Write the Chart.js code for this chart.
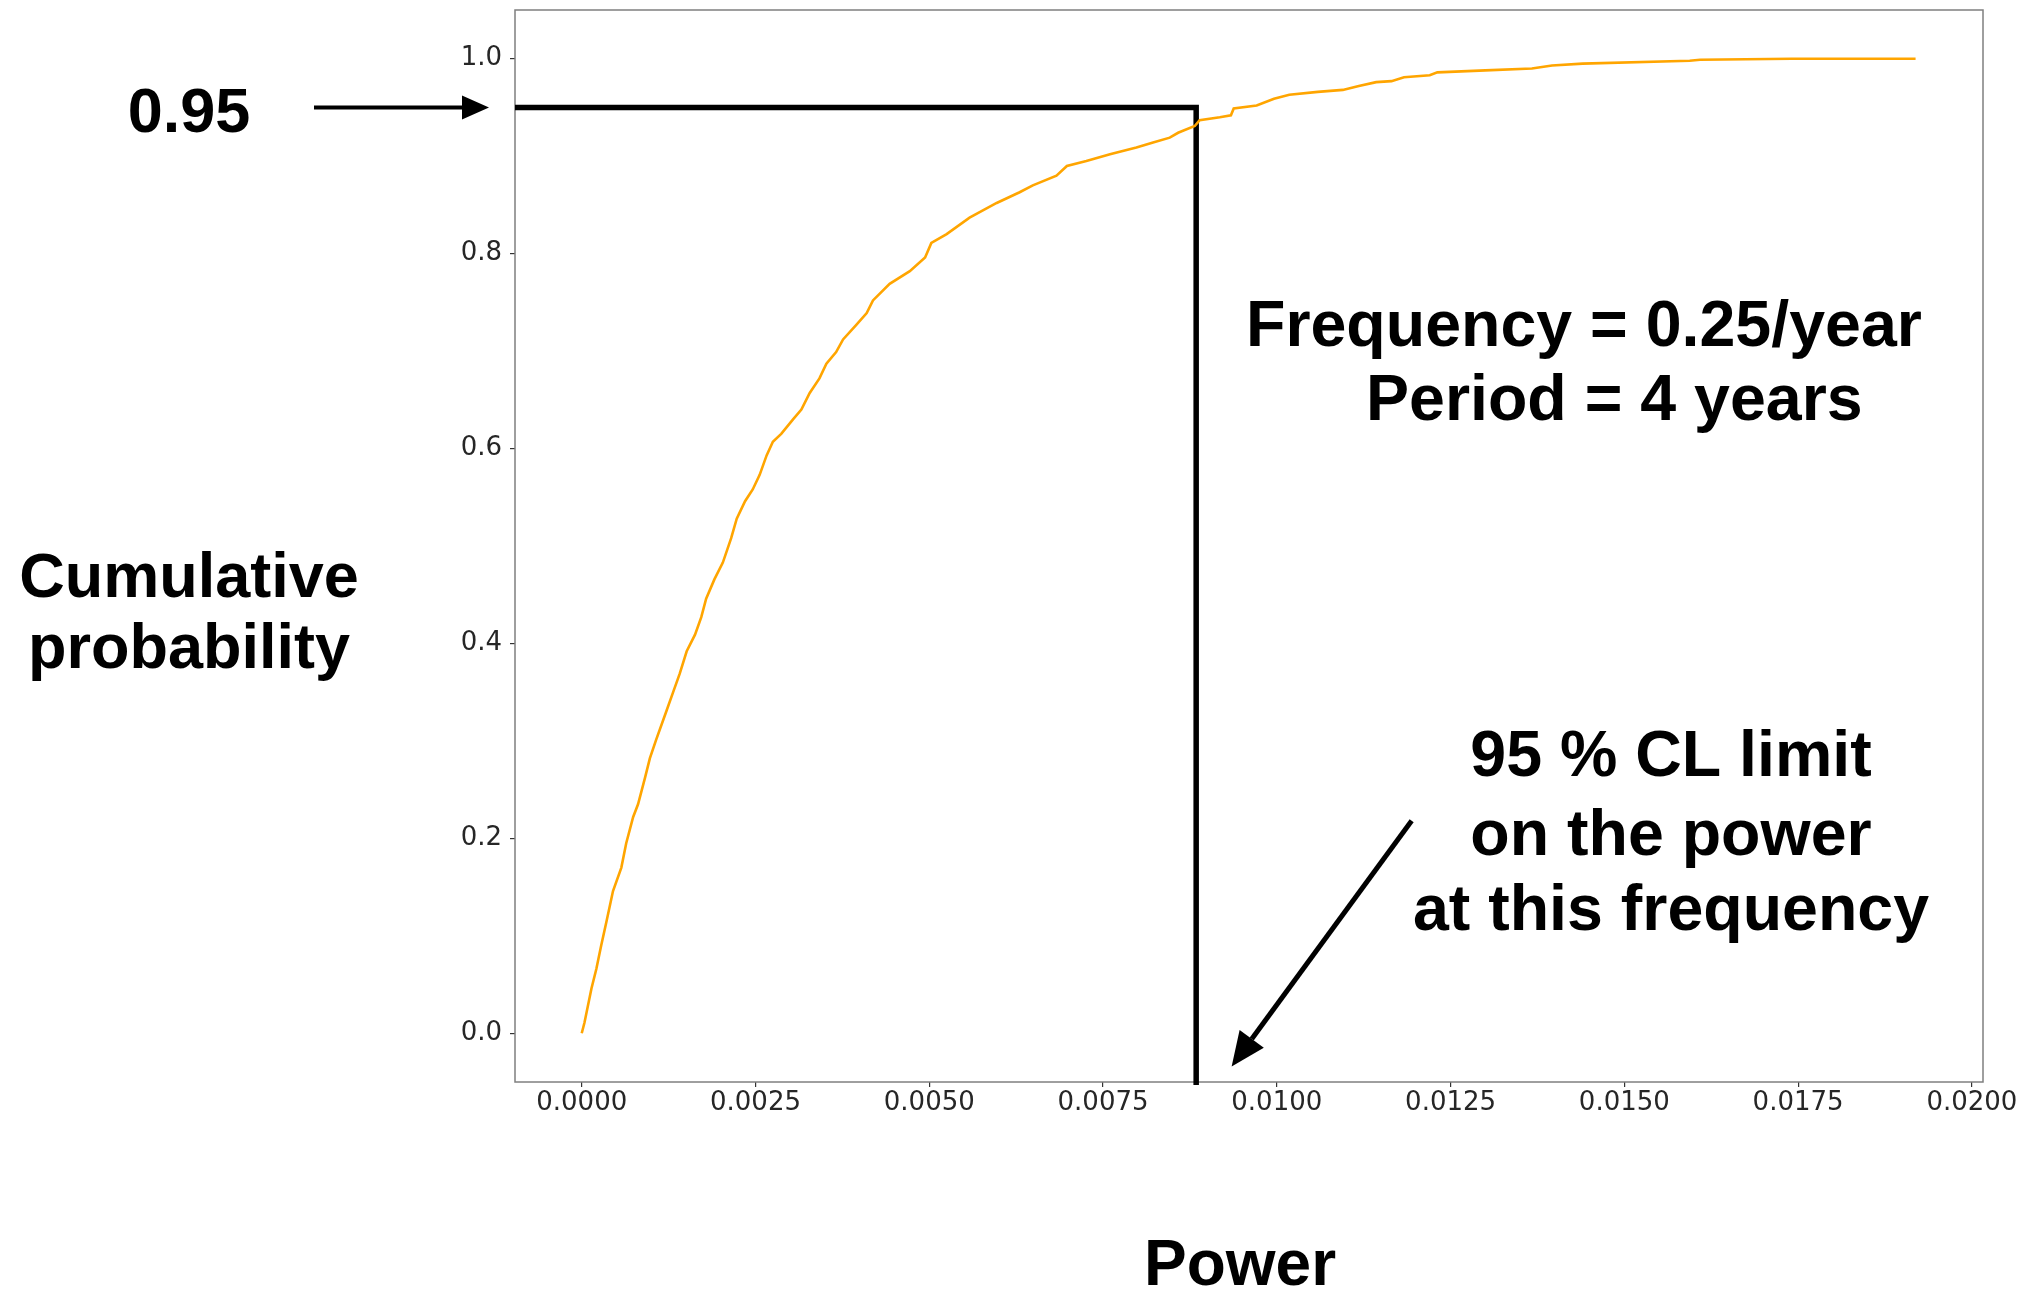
<!DOCTYPE html>
<html>
<head>
<meta charset="utf-8">
<title>Cumulative probability of power</title>
<script src="https://cdn.jsdelivr.net/npm/chart.js@4.4.1/dist/chart.umd.min.js"></script>
<style>
  html, body { margin: 0; padding: 0; background: #fff; }
  #wrap { width: 2025px; height: 1293px; position: relative; }
</style>
</head>
<body>
<div id="wrap"><canvas id="cdfChart"></canvas></div>
<script>
// empirical CDF of the power at f = 0.25/year
const power = [
  0, 0.00004, 0.00014, 0.00021, 0.00028, 0.00036, 0.00045, 0.00057, 0.00064, 0.00074,
  0.00081, 0.00091, 0.00098, 0.00107, 0.00122, 0.00131, 0.00141, 0.00151, 0.00163, 0.00172,
  0.00179, 0.00191, 0.00203, 0.00215, 0.00223, 0.00235, 0.00246, 0.00256, 0.00266, 0.00275,
  0.00287, 0.00304, 0.00316, 0.00328, 0.00342, 0.00352, 0.00366, 0.00376, 0.00395, 0.0041,
  0.00419, 0.00443, 0.00472, 0.00494, 0.00503, 0.00525, 0.00558, 0.00597, 0.0063, 0.00649,
  0.00683, 0.00698, 0.00726, 0.0076, 0.00798, 0.00822, 0.00846, 0.00858, 0.00882, 0.00889,
  0.00918, 0.00934, 0.00938, 0.00971, 0.00996, 0.01018, 0.01059, 0.01095, 0.01118, 0.01143,
  0.01165, 0.01183, 0.0122, 0.01231, 0.013, 0.01367, 0.01396, 0.0144, 0.01594, 0.01609,
  0.01741, 0.01919
];
const cumProb = [
  0, 0.011, 0.046, 0.066, 0.090, 0.116, 0.146, 0.170, 0.195, 0.222,
  0.235, 0.262, 0.282, 0.301, 0.331, 0.349, 0.369, 0.392, 0.409, 0.427,
  0.446, 0.466, 0.483, 0.508, 0.528, 0.546, 0.558, 0.573, 0.593, 0.607,
  0.615, 0.630, 0.640, 0.657, 0.672, 0.687, 0.699, 0.712, 0.727, 0.739,
  0.752, 0.769, 0.782, 0.796, 0.811, 0.820, 0.837, 0.852, 0.863, 0.870,
  0.880, 0.890, 0.895, 0.902, 0.909, 0.914, 0.919, 0.924, 0.931, 0.937,
  0.940, 0.942, 0.949, 0.952, 0.959, 0.963, 0.966, 0.968, 0.972, 0.976,
  0.977, 0.981, 0.983, 0.986, 0.988, 0.990, 0.993, 0.995, 0.998, 0.999,
  1.000, 1.000
];

const xTicks = [0, 0.0025, 0.005, 0.0075, 0.01, 0.0125, 0.015, 0.0175, 0.02];
const yTicks = [0, 0.2, 0.4, 0.6, 0.8, 1.0];

// 95 % confidence level and the power limit
const clLevel = 0.95;
const powerLimit = 0.00884;

const xMin = -0.00096, xMax = 0.02016;
const yMin = -0.05, yMax = 1.05;

const cdfPoints = power.map((p, i) => ({ x: p, y: cumProb[i] }));
const limitLines = [
  { x: xMin, y: clLevel },
  { x: powerLimit, y: clLevel },
  { x: powerLimit, y: yMin - 0.003 }
];

const boldFont = px => 'bold ' + px + 'px "Liberation Sans", Arial, sans-serif';

function arrow(ctx, x1, y1, x2, y2, width, headLen, headHalf) {
  const ang = Math.atan2(y2 - y1, x2 - x1);
  const bx = x2 - headLen * Math.cos(ang);
  const by = y2 - headLen * Math.sin(ang);
  ctx.save();
  ctx.strokeStyle = '#000';
  ctx.fillStyle = '#000';
  ctx.lineWidth = width;
  ctx.beginPath();
  ctx.moveTo(x1, y1);
  ctx.lineTo(bx, by);
  ctx.stroke();
  ctx.beginPath();
  ctx.moveTo(x2, y2);
  ctx.lineTo(bx + headHalf * Math.sin(ang), by - headHalf * Math.cos(ang));
  ctx.lineTo(bx - headHalf * Math.sin(ang), by + headHalf * Math.cos(ang));
  ctx.closePath();
  ctx.fill();
  ctx.restore();
}

// frame around the plot area
const frame = {
  id: 'frame',
  beforeDatasetsDraw(chart) {
    const { ctx, chartArea: a } = chart;
    ctx.save();
    ctx.strokeStyle = '#7f7f7f';
    ctx.lineWidth = 1.5;
    ctx.strokeRect(a.left, a.top, a.right - a.left, a.bottom - a.top);
    ctx.restore();
  }
};

// labels and arrows around the plot
const notes = {
  id: 'notes',
  afterDraw(chart) {
    const { ctx } = chart;
    const xs = chart.scales.x, ys = chart.scales.y;
    const lineY = ys.getPixelForValue(clLevel);

    ctx.save();
    ctx.fillStyle = '#000';
    ctx.textBaseline = 'alphabetic';

    ctx.font = boldFont(63);
    ctx.textAlign = 'center';
    ctx.fillText('0.95', 189, lineY + 25);
    ctx.fillText('Cumulative', 189, 597);
    ctx.fillText('probability', 189, 668);

    ctx.font = boldFont(64.5);
    ctx.textAlign = 'left';
    ctx.fillText('Frequency = 0.25/year', 1246, 346);
    ctx.fillText('Period = 4 years', 1366, 420);

    ctx.font = boldFont(64.5);
    ctx.textAlign = 'center';
    ctx.fillText('95 % CL limit', 1671, 776);
    ctx.fillText('on the power', 1671, 855);
    ctx.fillText('at this frequency', 1671, 930);

    ctx.font = boldFont(64);
    ctx.fillText('Power', 1240, 1285);
    ctx.restore();

    arrow(ctx, 314, lineY, 489, lineY, 4, 27, 12);
    arrow(ctx,
      xs.getPixelForValue(0.01194), ys.getPixelForValue(0.218),
      xs.getPixelForValue(0.00935), ys.getPixelForValue(-0.034),
      5, 34, 15);
  }
};

const tickFont = { family: '"DejaVu Sans", sans-serif', size: 26 };

new Chart(document.getElementById('cdfChart'), {
  type: 'line',
  data: {
    datasets: [
      {
        data: cdfPoints,
        borderColor: '#ffa500',
        borderWidth: 2.6,
        pointRadius: 0,
        tension: 0,
        fill: false
      },
      {
        data: limitLines,
        borderColor: '#000',
        borderWidth: 5.5,
        pointRadius: 0,
        tension: 0,
        fill: false,
        clip: false,
        borderJoinStyle: 'miter',
        borderCapStyle: 'butt'
      }
    ]
  },
  options: {
    responsive: true,
    maintainAspectRatio: false,
    animation: false,
    layout: { padding: { top: 10, right: 42, left: 0, bottom: 0 } },
    plugins: { legend: { display: false }, tooltip: { enabled: false } },
    scales: {
      x: {
        type: 'linear',
        min: xMin,
        max: xMax,
        afterFit(scale) {
          scale.height = 211;
          scale.paddingLeft = 0;
          scale.paddingRight = 0;
        },
        afterBuildTicks(scale) { scale.ticks = xTicks.map(v => ({ value: v })); },
        grid: { drawOnChartArea: false, tickLength: 5, color: '#333', lineWidth: 1.2 },
        border: { display: false },
        ticks: {
          font: tickFont,
          color: '#262626',
          padding: 1,
          maxRotation: 0,
          callback: v => v.toFixed(4)
        }
      },
      y: {
        min: yMin,
        max: yMax,
        afterFit(scale) {
          scale.width = 515;
          scale.paddingTop = 0;
          scale.paddingBottom = 0;
        },
        afterBuildTicks(scale) { scale.ticks = yTicks.map(v => ({ value: v })); },
        grid: { drawOnChartArea: false, tickLength: 5, color: '#333', lineWidth: 1.2 },
        border: { display: false },
        ticks: {
          font: tickFont,
          color: '#262626',
          padding: 8,
          callback: v => v.toFixed(1)
        }
      }
    }
  },
  plugins: [frame, notes]
});
</script>
</body>
</html>
